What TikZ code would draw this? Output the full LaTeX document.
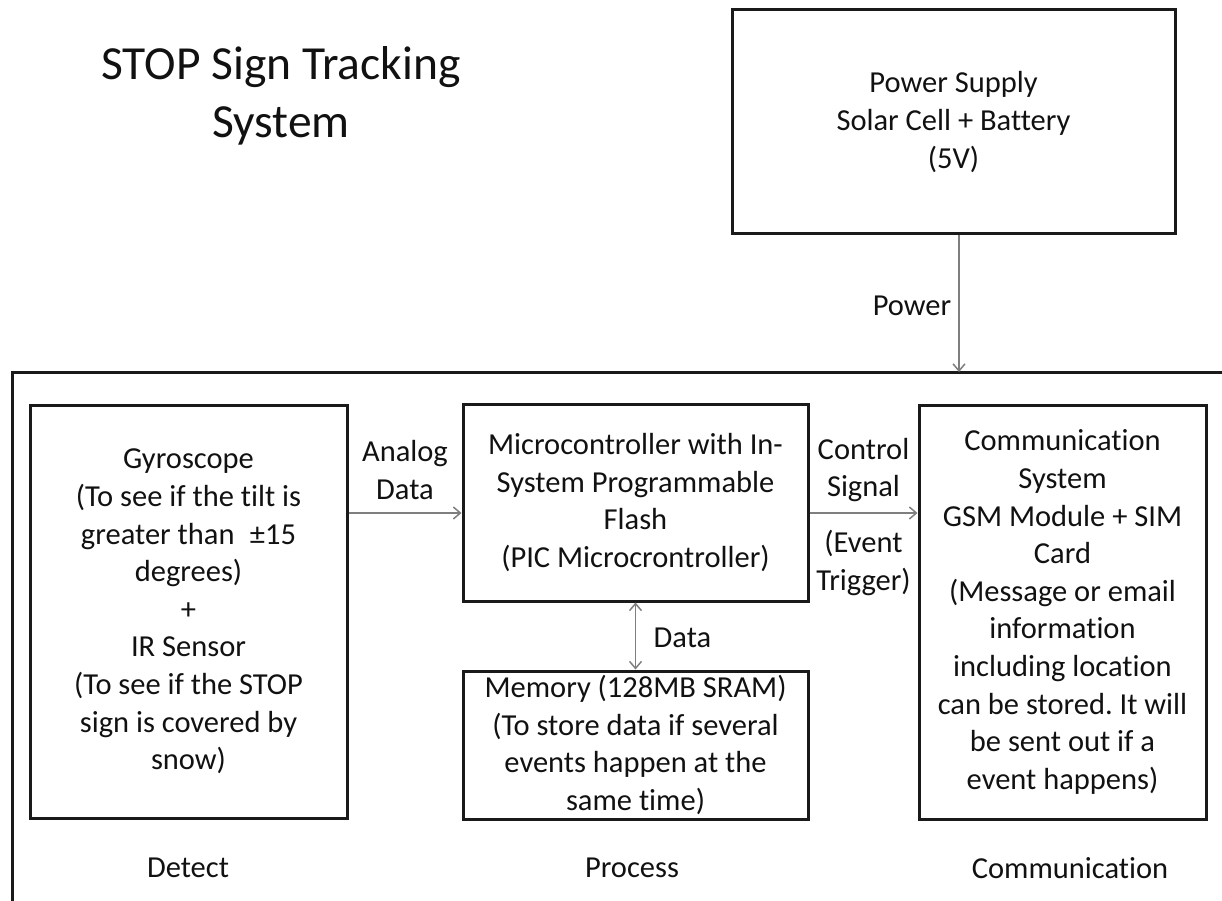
\documentclass[tikz,border=0pt]{standalone}
\usepackage{fontspec}
\setmainfont{Carlito}[Ligatures=NoCommon]
\usetikzlibrary{arrows.meta,calc}
\definecolor{boxline}{HTML}{1A1A1A}
\definecolor{wirec}{HTML}{7F7F7F}
\definecolor{ink}{HTML}{111111}
\newcommand{\bodyfont}{\fontsize{30.5}{37.6}\selectfont}
\newcommand{\titlefont}{\fontsize{47.5}{58}\selectfont}
\frenchspacing

\begin{document}
\begin{tikzpicture}[x=1pt,y=-1pt,
  block/.style={draw=boxline,line width=3pt,inner sep=0pt,align=center,font=\bodyfont,text=ink},
  lbl/.style={align=center,font=\bodyfont,text=ink,inner sep=0pt},
  wire/.style={draw=wirec,line width=1.5pt,-{Straight Barb[length=7pt,width=12pt]}},
  twoway/.style={wire,{Straight Barb[length=7pt,width=12pt]}-{Straight Barb[length=7pt,width=12pt]}}]
  \useasboundingbox (0,0) rectangle (1222,901);
  % title
  \node[lbl,font=\titlefont] (title) at (281,96) {STOP Sign Tracking\\System};
  % power supply
  \node[block,minimum width=443pt,minimum height=224pt] (power) at (953.5,122)
    {Power Supply\\Solar Cell + Battery\\(5V)};
  % system frame, only its left and top sides show
  \coordinate (frametop) at (12,372);
  \draw[boxline,line width=3pt] (12,901) |- (1222,372);
  % blocks
  \node[block,minimum width=317pt,minimum height=413pt] (gyro) at (188.5,611.5)
    {Gyroscope\\(To see if the tilt is\\greater than \;±15\\degrees)\\+\\IR Sensor\\(To see if the STOP\\sign is covered by\\snow)};
  \node[block,minimum width=345pt,minimum height=197pt] (mcu) at (635.5,502.5)
    {Microcontroller with In-\\System Programmable\\Flash\\(PIC Microcrontroller)};
  \node[block,minimum width=345pt,minimum height=148pt] (mem) at (635.5,745)
    {Memory (128MB SRAM)\\(To store data if several\\events happen at the\\same time)};
  \node[block,minimum width=287pt,minimum height=414pt] (comm) at (1062.5,612)
    {Communication\\System\\GSM Module + SIM\\Card\\(Message or email\\information\\including location\\can be stored. It will\\be sent out if a\\event happens)};
  % connectors
  \coordinate (ain) at ($(mcu.west)+(0,10.5)$);
  \coordinate (cout) at ($(mcu.east)+(0,10.5)$);
  \coordinate (pout) at ($(power.south)+(5.5,0)$);
  \draw[wire] (gyro.east |- ain) -- (ain);
  \draw[wire] (cout) -- (cout -| comm.west);
  \draw[twoway] (mcu.south) -- (mem.north);
  \draw[wire] (pout) -- (pout |- frametop);
  % connector labels
  \node[lbl] (analog) at (405,470) {Analog\\Data};
  \node[lbl] (ctrl) at (863.5,470) {Control\\Signal};
  \node[lbl] (event) at (863.5,563) {(Event\\Trigger)};
  \node[lbl] (datal) at (682.5,638) {Data};
  \node[lbl] (powerl) at (912,306) {Power};
  % stage names
  \node[lbl] (detect) at (188,868) {Detect};
  \node[lbl] (process) at (632,868) {Process};
  \node[lbl] (commst) at (1070,868) {Communication};
\end{tikzpicture}
\end{document}
